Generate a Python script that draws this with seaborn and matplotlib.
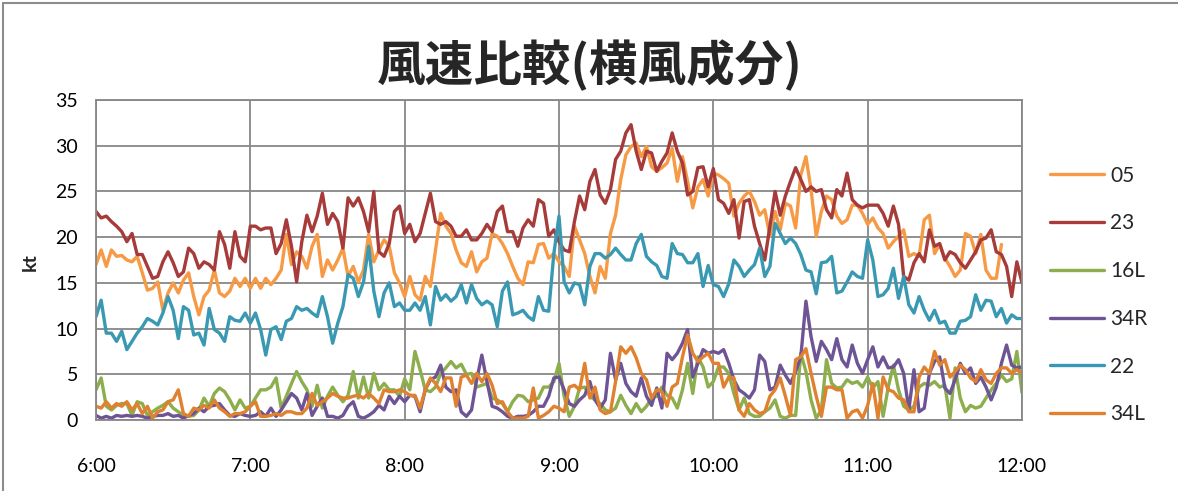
import numpy as np
import pandas as pd
import matplotlib
matplotlib.use("Agg")
import matplotlib.pyplot as plt
from matplotlib.lines import Line2D
import seaborn as sns

# ---------------- data (2-minute samples, 6:00 - 12:00) ----------------
series_names = ["05", "23", "16L", "34R", "22", "34L"]
tick_labels = ["6:00", "7:00", "8:00", "9:00", "10:00", "11:00", "12:00"]
nan = np.nan

s05 = [17, 18.6, 16.8, 18.6, 17.9, 18, 17.5, 17.3, 17.9, 16.1, 14.2, 14.4, 15.1, 12, 13.9, 15, 13.9, 15.3, 16.1, 13.5, 11.5, 13.5, 14.2, 16.4, 13.9, 13.5, 14.1, 15.5, 14.6, 15.5, 14.4,
       15.5, 14.4, 15.5, 14.8, 15.5, 16.4, 20.3, 17, 18.4, 17.9, 16.6, 19, 20.3, 15.7, 17.5, 16.4, 17.5, 18.8, 15.7, 16.8, 15.1, 16.4, 20.3, 17.3, 18.6, 19.7, 19, 16.1, 15, 13.5,
       15.7, 13.7, 13.1, 15.7, 14.6, 18.6, 22.6, 21.2, 20.4, 18.6, 17.2, 16.8, 18.4, 16.2, 17.3, 17.7, 20.4, 20.1, 19.3, 18.2, 16.8, 15.5, 14.8, 17.3, 17.2, 19.2, 19.3, 17.7, 18.2, 17.3,
       16.8, 15.7, 21.2, 19.7, 18.2, 15.7, 13.9, 16.8, 15.5, 20.4, 22.4, 26.3, 29, 29.9, 30.3, 28.8, 29.9, 27.7, 27.2, 27.6, 28.1, 29.7, 26.1, 28.8, 26.1, 23.2, 25.5, 26.3, 24.5, 27,
       26.8, 26.4, 25.9, 22.3, 23.7, 24.5, 25, 23.9, 22.4, 23, 20.1, 22.8, 20.8, 23.7, 23.4, 21, 26.8, 28.8, 25.2, 20.1, 22.8, 24.5, 24.1, 22.3, 21.5, 21.9, 23.5, 23.5, 22.6, 21.4,
       22.1, 21, 20.4, 18.8, 19.5, 20.1, 20.8, 17.9, 18.2, 17.9, 21.9, 22.4, 18.2, 19.2, 17.7, 16.8, 15.7, 16.4, 20.4, 20.1, 18.2, 20.3, 16.4, 15.5, 15.5, 19.2, nan, nan, nan, nan]

s23 = [22.8, 22.1, 22.3, 21.7, 21.2, 20.6, 19.5, 20.4, 18.1, 18.1, 16.8, 15.5, 15.7, 17.3, 18.4, 17.2, 15.7, 16.2, 18.8, 18.2, 16.6, 17.3, 17, 16.4, 20.6, 19.2, 16.6, 20.6, 17.9, 17.3, 21.2,
       21.2, 20.8, 21, 21, 18.2, 19.3, 21.9, 19, 15.1, 19.5, 22.4, 20.6, 22.3, 24.8, 21.4, 22.6, 21.7, 18.8, 24.3, 23.4, 24.3, 22.8, 20.6, 25, 18.4, 17.9, 19.3, 22.8, 23.4, 20.4,
       21.4, 19.5, 20.4, 22.6, 24.8, 21.7, 21.4, 21.7, 21.2, 20.1, 20.1, 20.8, 19.7, 19.7, 20.4, 21.4, 20.6, 22.8, 23.4, 20.6, 20.6, 19, 21, 21.9, 21.2, 24.1, 23.7, 20.1, 20.8, 19.5,
       18.6, 18.4, 21.7, 24.5, 23, 26.1, 27.4, 24.6, 23.7, 25.2, 28.5, 29.4, 31.4, 32.3, 29.4, 27.4, 29.4, 29.2, 27.2, 28.3, 29.2, 31.4, 29.4, 28.1, 24.6, 25, 27.6, 27.7, 25.5, 27.5,
       24.1, 23.7, 22.6, 24.1, 19.9, 23.9, 24.1, 21.2, 19.3, 17.5, 21.2, 25, 22.4, 24.5, 26.1, 27.6, 26.3, 25, 25.5, 25, 25.2, 23, 22.1, 25.2, 24.5, 27, 24.1, 23.5, 23.2, 23.5,
       23.5, 23.5, 22.6, 21.2, 23.4, 21.4, 15.7, 15.3, 17.2, 18.2, 17.3, 20.8, 19, 19.3, 17.5, 18.4, 18.1, 17.2, 16.6, 17.5, 18.4, 19.7, 19.9, 20.8, 18.4, 18.1, 16.8, 13.5, 17.3, 15]

s16L = [3.3, 4.6, 1.5, 1.1, 1.6, 1.8, 1.8, 0.5, 2, 1.8, 0.5, 0.9, 1.3, 1.6, 2, 1.3, 0.9, 0.5, 0.4, 0.5, 1.1, 2.4, 1.5, 2.9, 3.5, 3.1, 2.2, 1.1, 2.2, 1.3, 1.5,
        2.4, 3.3, 3.3, 3.6, 4.6, 1.3, 2.6, 4, 5.3, 4.2, 3.3, 1.5, 3.8, 1.3, 2.6, 3.6, 2.7, 2, 2.7, 5.3, 2.4, 4.7, 2.4, 5.1, 3.3, 4, 3.3, 3.3, 2.6, 4.5,
        3.3, 7.5, 5.5, 3.3, 3.1, 3.6, 5.1, 5.7, 6.4, 5.7, 6.1, 5.0, 5.1, 3.6, 3.8, 4.0, 2.4, 2.2, 1.8, 0.9, 2.0, 2.7, 2.6, 2.0, 2.2, 2.4, 3.6, 3.6, 4.2, 6.2,
        2.6, 0.4, 1.5, 3.5, 3.6, 2.6, 2.2, 1.8, 1.1, 0.9, 1.3, 2.7, 1.6, 0.7, 1.8, 0.9, 1.5, 2.4, 2.6, 3.6, 2.7, 2.4, 1.3, 3.3, 6.2, 2.9, 6.9, 5.8, 3.6, 4.2,
        5.8, 5.8, 5.1, 2.9, 1.1, 2.4, 0.7, 0.4, 0.4, 0.9, 1.3, 2.2, 0.4, 0.2, 0.5, 0.5, 7.3, 5.3, 2.2, 0.2, 1.1, 6.6, 4, 3.5, 3.6, 4.4, 4, 4.2, 3.6, 4.7,
        3.5, 4.2, 0.4, 3.6, 6, 3.3, 1.5, 1.1, 1.5, 3.6, 4, 3.8, 4.2, 3.6, 3.8, 0.2, 5.7, 2.4, 0.9, 1.6, 1.3, 1.5, 2.4, 3.3, 4, 4.9, 4.2, 4.5, 7.5, 3.0]

s34R = [0.5, 0.2, 0.4, 0.2, 0.5, 0.4, 0.5, 0.4, 0.5, 0.4, 0.2, 0.4, 0.5, 0.5, 0.7, 0.4, 0.5, 0.2, 0.5, 0.7, 1.3, 0.9, 1.5, 1.6, 1.8, 1.1, 0.5, 0.4, 0.7, 0.5, 0.4,
        0.5, 0.9, 0.4, 1.3, 0.4, 1.1, 2, 2.9, 2.4, 1.1, 2.9, 0.5, 1.5, 2.4, 0.4, 0.4, 0.2, 0.5, 1.5, 2, 0.4, 0.2, 0.5, 0.9, 1.6, 1.1, 2.6, 1.8, 2.6, 2.0,
        2.7, 2.6, 0.9, 3.3, 4.4, 4.7, 6.0, 3.6, 3.1, 3.3, 0.9, 0.4, 1.1, 4.4, 7.1, 4.2, 1.5, 1.3, 0.9, 0.4, 0.2, 0.4, 0.4, 0.5, 0.9, 1.5, 1.5, 2.6, 4.6, 4.7,
        3.3, 1.8, 1.5, 2.2, 2.7, 4.2, 2.2, 1.3, 2.2, 7.3, 4.4, 6.2, 4, 3.1, 2.6, 4.6, 2.6, 1.6, 3.5, 1.3, 7.3, 6.6, 7.3, 8.4, 9.9, 4.7, 6.2, 7.7, 7.3, 7.5,
        7.3, 7.7, 6.2, 4.4, 3.3, 2.9, 2.4, 3.3, 7.1, 6.4, 3.3, 3.6, 6.0, 4.9, 4.0, 5.3, 6.9, 13.0, 9.1, 6.4, 8.6, 7.7, 6.6, 8.9, 6.6, 5.8, 8.2, 6.2, 5.1, 6.6,
        8, 5.8, 6.9, 5.7, 5.8, 6.6, 5.1, 1.1, 5.5, 0.9, 1.3, 5.1, 6.4, 6.9, 3.5, 2.9, 4.4, 6.2, 5.1, 5.7, 4, 4.7, 3.6, 2.2, 3.6, 6.2, 8.2, 6, 5.7, 5.8]

s22 = [11.3, 13.1, 9.5, 9.5, 8.6, 9.7, 7.7, 8.6, 9.5, 10.2, 11.1, 10.8, 10.4, 11.7, 13.5, 12, 8.9, 12.4, 12, 9.3, 9.5, 8.2, 12.2, 9.9, 9.5, 8.6, 11.3, 10.9, 10.8, 11.7, 10.6,
       11.7, 9.9, 7.1, 9.9, 10.2, 8.8, 10.8, 11.1, 12.4, 12, 12.2, 11.7, 11.3, 13.5, 11.3, 8.4, 10.6, 12.4, 15.9, 15.5, 13.5, 15.1, 19, 14.1, 11.3, 13.9, 15, 12.4, 12.8, 12.0,
       12, 12.8, 12, 13.5, 10.4, 14.6, 13.1, 13.7, 13, 13.5, 14.8, 12.8, 14.8, 13.3, 12.6, 13, 12.6, 10.2, 14.1, 15.1, 11.5, 11.7, 12, 11.3, 10.9, 13.5, 12, 11.9, 18.2, 22.3,
       15.1, 13.9, 15, 14.8, 12.6, 16.8, 18.2, 18.2, 17.7, 18.1, 18.8, 18.1, 17.5, 17.5, 19.3, 20.3, 17.9, 17.3, 16.9, 15.7, 15.5, 19.3, 18.2, 18.1, 17.2, 17.2, 18.2, 14.6, 16.9, 14.8,
       14.6, 13.5, 14.9, 17.5, 16.8, 15.7, 16.4, 17, 18.8, 15.7, 16.8, 21.5, 20.4, 19.3, 19.9, 19.3, 18.1, 16.4, 16.2, 13.8, 17.2, 17.3, 17.9, 13.9, 14.1, 15.1, 16.2, 15.7, 15.5, 19.7,
       17.5, 13.5, 13.7, 14.4, 16.6, 13.3, 15.7, 12.6, 11.7, 13.5, 12, 10.9, 12, 10.6, 10.8, 9.5, 9.5, 10.8, 10.9, 11.3, 13.7, 12, 13.1, 13, 11.3, 12.2, 10.6, 11.5, 11.1, 11.1]

s34L = [1.5, 1.3, 2, 1.3, 1.8, 1.5, 2, 1.1, 1.8, 0.7, 1.5, 0.2, 0.9, 1.1, 2.0, 2.2, 3.3, 0.7, 0.4, 1.3, 1.1, 1.6, 1.3, 2.2, 1.3, 0.9, 0.4, 0.7, 0.7, 0.9, 1.5,
        2, 0.4, 0.4, 0.5, 0.7, 0.5, 0.9, 0.9, 0.7, 0.7, 1.3, 2.9, 1.6, 2, 2.4, 2.9, 2.6, 2.4, 2.4, 2.6, 2.7, 2.4, 2.9, 2.4, 1.8, 3.3, 3.1, 3.1, 3.3, 3.1,
        2.7, 2.7, 1.3, 3.3, 4.6, 4, 3.1, 4.6, 4.6, 1.5, 4.7, 4.9, 4, 5.1, 4.2, 5.1, 3.8, 1.8, 2, 0.9, 0.2, 0.2, 0.2, 0.4, 3.5, 0.2, 0.5, 0.9, 1.5, 1.3,
        0.9, 3.6, 3.8, 3.3, 6.2, 2.4, 3.6, 1.1, 0.7, 0.9, 4.2, 8, 7.3, 8, 6.8, 5.1, 4.4, 2.4, 3.3, 3.1, 1.5, 3.6, 4, 6.9, 9.3, 7.3, 6.4, 6.9, 7.3, 6.2,
        6.2, 3.6, 4.7, 4.6, 1.1, 0.4, 1.8, 1.1, 0.7, 0.9, 2.6, 3.3, 4.6, 2.6, 0.5, 6.6, 6.9, 7.8, 5.1, 2.6, 0.4, 3.6, 3.6, 3.3, 3.3, 0.2, 0.9, 1.1, 0.2, 1.6,
        4, 0.2, 4.7, 3.3, 3.1, 2.4, 2.2, 0.9, 0.9, 4.7, 5.8, 5.1, 7.5, 6, 6.6, 4.7, 5.3, 6, 5.5, 4.6, 4.2, 5.5, 4.4, 4, 5.1, 5.7, 5.7, 5.1, 5.5, 5.1]

series_values = [s05, s23, s16L, s34R, s22, s34L]
colors = ["#F79A45", "#A63B3A", "#8CAE4C", "#6E5495", "#3A99B2", "#E0812F"]

minutes = np.arange(len(s05)) * 2  # minutes after 6:00

frames = []
for name, vals in zip(series_names, series_values):
    frames.append(pd.DataFrame({"t": minutes, "v": vals, "series": name}))
df = pd.concat(frames, ignore_index=True).dropna()

# ---------------- plot ----------------
sns.set_theme(style="white")
plt.rcParams["font.family"] = ["Lato", "DejaVu Sans"]

W, H = 1178, 491
fig = plt.figure(figsize=(W / 100, H / 100), dpi=100)
ax = fig.add_axes([96 / W, (H - 420) / H, (1022 - 96) / W, 320 / H])

sns.lineplot(data=df, x="t", y="v", hue="series", hue_order=series_names,
             palette=colors, linewidth=2.4, estimator=None, errorbar=None,
             legend=False, ax=ax)

ax.set_xlim(0, 360)
ax.set_ylim(0, 35)
ax.set_xticks(np.arange(0, 361, 60))
ax.set_xticklabels(tick_labels)
ax.set_yticks(np.arange(0, 36, 5))
ax.set_xlabel("")
ax.set_ylabel("")
ax.grid(True, color="#878787", linewidth=1.3)
ax.set_axisbelow(True)
for sp in ax.spines.values():
    sp.set_color("#878787")
    sp.set_linewidth(1.3)
ax.tick_params(axis="x", length=0, pad=27, labelsize=14, colors="black")
ax.tick_params(axis="y", length=0, pad=13, labelsize=14, colors="black")

handles = [Line2D([0], [0], color=c, linewidth=2.4) for c in colors]
fig.legend(handles, series_names, loc="center left",
           bbox_to_anchor=(1050 / W, (H - 295) / H), frameon=False,
           fontsize=15, handlelength=2.6, handletextpad=0.3,
           labelspacing=1.33, borderpad=0, borderaxespad=0)

fig.text(590 / W, 1 - 65 / H, "風速比較(横風成分)", fontsize=35, fontweight="bold",
         family=["Noto Sans CJK JP", "DejaVu Sans"], ha="center", va="center")
fig.text(30 / W, 1 - 262 / H, "kt", fontsize=14, fontweight="bold",
         rotation=90, ha="center", va="center")

# outer chart-area border
fig.add_artist(Line2D([3 / W, 3 / W], [0, 1 - 3 / H], transform=fig.transFigure,
                      color="#8c8c8c", linewidth=1.5))
fig.add_artist(Line2D([3 / W, 1], [1 - 3 / H, 1 - 3 / H], transform=fig.transFigure,
                      color="#8c8c8c", linewidth=1.5))

fig.savefig("out.png", dpi=100)
